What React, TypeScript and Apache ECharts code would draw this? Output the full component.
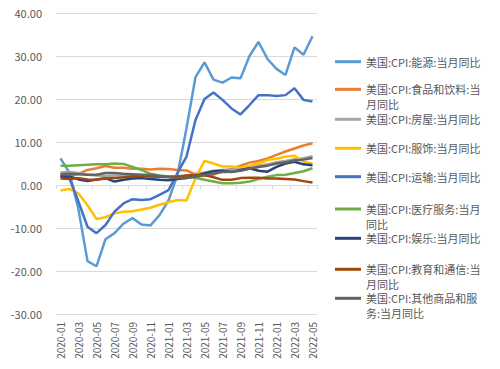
import React, { useEffect, useRef } from "react";
import * as echarts from "echarts";

const months = [
  "2020-01","2020-02","2020-03","2020-04","2020-05","2020-06","2020-07","2020-08","2020-09","2020-10","2020-11","2020-12",
  "2021-01","2021-02","2021-03","2021-04","2021-05","2021-06","2021-07","2021-08","2021-09","2021-10","2021-11","2021-12",
  "2022-01","2022-02","2022-03","2022-04","2022-05",
];

const energy = [6.2, 2.8, -5.7, -17.7, -18.9, -12.6, -11.2, -9.0, -7.7, -9.2, -9.4, -7.0, -3.6, 2.4, 13.2, 25.1, 28.5, 24.5, 23.8, 25.0, 24.8, 30.0, 33.3, 29.3, 27.0, 25.6, 32.0, 30.3, 34.6];
const food = [1.8, 2.0, 2.6, 3.5, 3.9, 4.4, 4.0, 4.0, 3.8, 3.8, 3.6, 3.8, 3.7, 3.5, 3.4, 2.4, 2.1, 2.4, 3.3, 3.7, 4.5, 5.2, 5.6, 6.2, 7.0, 7.8, 8.5, 9.2, 9.7];
const housing = [2.9, 3.0, 2.8, 2.4, 2.2, 2.1, 2.2, 2.2, 2.1, 2.1, 2.1, 2.0, 1.9, 1.9, 2.1, 2.6, 2.9, 3.3, 3.5, 3.6, 3.9, 4.2, 4.5, 4.8, 5.3, 5.6, 6.0, 6.2, 6.7];
const apparel = [-1.3, -0.9, -2.0, -4.7, -7.9, -7.5, -6.6, -6.2, -6.1, -5.7, -5.3, -4.6, -4.0, -3.5, -3.6, 1.6, 5.6, 5.0, 4.3, 4.3, 4.1, 4.5, 5.0, 5.8, 6.1, 6.6, 6.8, 5.4, 5.0];
const transport = [2.5, 1.5, -3.9, -9.7, -11.2, -9.3, -6.2, -4.3, -3.3, -3.5, -3.3, -2.3, -1.2, 2.8, 6.6, 15.1, 20.0, 21.5, 19.8, 17.8, 16.4, 18.6, 20.9, 20.9, 20.7, 20.9, 22.5, 19.8, 19.4];
const medical = [4.5, 4.5, 4.6, 4.7, 4.8, 4.8, 5.0, 4.9, 4.2, 3.5, 2.6, 2.2, 2.0, 2.0, 2.1, 1.7, 1.2, 0.8, 0.4, 0.4, 0.5, 0.8, 1.4, 1.9, 2.3, 2.4, 2.8, 3.2, 3.9];
const recreation = [1.9, 2.0, 1.3, 0.9, 1.3, 1.6, 0.8, 1.2, 1.5, 1.6, 1.4, 1.2, 1.1, 1.4, 1.6, 2.1, 2.7, 3.2, 3.3, 3.0, 3.5, 3.9, 3.3, 3.1, 4.2, 5.0, 5.4, 4.8, 4.6];
const education = [1.5, 1.4, 1.6, 1.3, 1.2, 1.5, 1.6, 1.8, 2.0, 2.1, 2.0, 1.9, 1.9, 2.0, 2.2, 2.3, 2.3, 1.8, 1.2, 1.2, 1.6, 1.7, 1.7, 1.5, 1.5, 1.4, 1.3, 0.9, 0.6];
const other = [2.5, 2.6, 2.5, 2.4, 2.4, 2.8, 2.8, 2.6, 2.5, 2.4, 2.3, 2.1, 1.8, 1.6, 1.6, 1.9, 2.3, 2.7, 3.0, 3.1, 3.3, 3.8, 4.2, 4.5, 5.0, 5.3, 5.7, 5.9, 6.3];

const seriesNames = [
  "美国:CPI:能源:当月同比",
  "美国:CPI:食品和饮料:当月同比",
  "美国:CPI:房屋:当月同比",
  "美国:CPI:服饰:当月同比",
  "美国:CPI:运输:当月同比",
  "美国:CPI:医疗服务:当月同比",
  "美国:CPI:娱乐:当月同比",
  "美国:CPI:教育和通信:当月同比",
  "美国:CPI:其他商品和服务:当月同比",
];
// legend text split into the first line (beside the icon) and an optional wrapped second line
const legendLine1 = [
  "美国:CPI:能源:当月同比",
  "美国:CPI:食品和饮料:当",
  "美国:CPI:房屋:当月同比",
  "美国:CPI:服饰:当月同比",
  "美国:CPI:运输:当月同比",
  "美国:CPI:医疗服务:当月",
  "美国:CPI:娱乐:当月同比",
  "美国:CPI:教育和通信:当",
  "美国:CPI:其他商品和服",
];
const legendLine2 = ["", "月同比", "", "", "", "同比", "", "月同比", "务:当月同比"];
const seriesData = [energy, food, housing, apparel, transport, medical, recreation, education, other];
const colors = ["#5B9BD5", "#ED7D31", "#A5A5A5", "#FFC000", "#4472C4", "#70AD47", "#264478", "#9E480E", "#636363"];
const legendCenters = [61.7, 89.3, 119.3, 148.3, 176.7, 209, 238.3, 269.3, 298.3];

const FONT = '"Noto Sans CJK SC", "Noto Sans", sans-serif';
const TEXT = "#595959";
const LEGEND_LEFT = 335;
const ICON_W = 26;

export default function App() {
  const ref = useRef<HTMLDivElement>(null);
  useEffect(() => {
    if (!ref.current) return;
    const chart = echarts.init(ref.current, null, { renderer: "svg" });
    const legends = seriesNames.map((name, i) => ({
      data: [name],
      left: LEGEND_LEFT,
      top: legendCenters[i] - 7,
      orient: "vertical",
      padding: 0,
      icon: "rect",
      itemWidth: ICON_W,
      itemHeight: 3,
      formatter: () => legendLine1[i],
      textStyle: {
        fontFamily: FONT,
        fontSize: 11,
        color: TEXT,
        lineHeight: 14,
      },
    }));
    const wrapped = legendLine2
      .map((t, i) => ({ t, i }))
      .filter((o) => o.t)
      .map((o) => ({
        type: "text",
        left: LEGEND_LEFT + ICON_W + 5,
        top: legendCenters[o.i] + 9,
        style: {
          text: o.t,
          fontFamily: FONT,
          fontSize: 11,
          fill: TEXT,
        },
      }));
    chart.setOption({
      animation: false,
      color: colors,
      textStyle: { fontFamily: FONT },
      grid: { left: 56, top: 13, width: 261, height: 301, containLabel: false },
      legend: legends,
      graphic: wrapped,
      xAxis: [
        {
          type: "category",
          data: months,
          boundaryGap: true,
          axisLine: { onZero: true, lineStyle: { color: "#D9D9D9", width: 1 } },
          axisTick: { show: true, interval: 1, length: 4, lineStyle: { color: "#D9D9D9" } },
          axisLabel: { show: false },
          splitLine: { show: false },
        },
        {
          type: "category",
          data: months,
          position: "bottom",
          boundaryGap: true,
          axisLine: { show: false, onZero: false },
          axisTick: { show: false },
          axisLabel: {
            rotate: 90,
            interval: 1,
            margin: 8,
            fontSize: 10,
            color: TEXT,
            fontFamily: FONT,
          },
          splitLine: { show: false },
        },
      ],
      yAxis: {
        type: "value",
        min: -30,
        max: 40,
        interval: 10,
        axisLine: { show: false },
        axisTick: { show: false },
        axisLabel: {
          formatter: (v: number) => v.toFixed(2),
          fontSize: 11,
          color: TEXT,
          margin: 14,
          fontFamily: FONT,
        },
        splitLine: { lineStyle: { color: "#D9D9D9", width: 1 } },
      },
      series: seriesNames.map((name, i) => ({
        name,
        type: "line",
        data: seriesData[i],
        xAxisIndex: 0,
        symbol: "none",
        lineStyle: { width: 2.5, color: colors[i] },
        itemStyle: { color: colors[i] },
      })),
    });
    return () => chart.dispose();
  }, []);
  return (
    <div
      ref={ref}
      style={{ position: "absolute", left: 0, top: 0, width: 500, height: 369 }}
    />
  );
}
